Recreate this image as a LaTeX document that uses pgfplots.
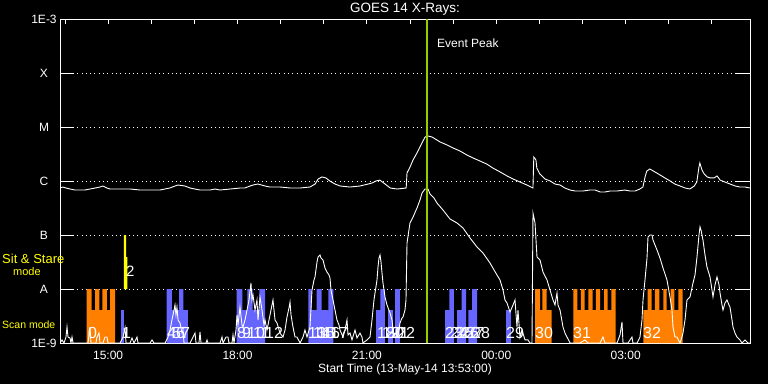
\documentclass[border=0pt]{standalone}
\usepackage{pgfplots}
\pgfplotsset{compat=1.18}
\usepackage{fontspec}
\setmainfont{Liberation Sans}
\definecolor{scanorange}{RGB}{255,128,0}
\definecolor{scanblue}{RGB}{102,102,255}
\definecolor{sityellow}{RGB}{255,255,0}
\definecolor{peakgreen}{RGB}{153,204,0}
\newcommand{\lbl}{\fontsize{12}{14}\selectfont}
\newcommand{\num}{\fontsize{16}{16}\selectfont}
\begin{document}
\begin{tikzpicture}
\fill[black] (0,0) rectangle (768pt,384pt);
\begin{axis}[
  at={(60pt,41pt)}, anchor=south west,
  scale only axis, width=690pt, height=324pt,
  xmin=13.8833, xmax=29.8833,
  ymode=log, ymin=1e-9, ymax=1e-3,
  axis line style={white, line width=1pt},
  xtick={15,18,21,24,27},
  xticklabels={15:00,18:00,21:00,00:00,03:00},
  every major x tick/.append style={draw=none},
  minor xtick={14,15,...,29},
  xtick pos=right,
  xticklabel pos=left,
  ytick={1e-9,1e-8,1e-7,1e-6,1e-5,1e-4,1e-3},
  yticklabels={1E-9,A,B,C,M,X,1E-3},
  yminorticks=false,
  ytick pos=both,
  yticklabel pos=left,
  tick align=inside,
  major tick length=14pt,
  minor tick length=5pt,
  tick style={white, line width=1pt},
  ymajorgrids,
  grid style={white, line width=0.8pt, dash pattern=on 0.8pt off 3.5pt},
  ticklabel style={white, font=\lbl},
  yticklabel style={anchor=center, xshift=-16pt},
  xticklabel style={anchor=base, yshift=-16pt},
  /pgf/number format/assume math mode=true,
]
% orange scan blocks
\addplot[fill=scanorange, draw=none] coordinates {(14.502,1e-9) (14.502,1e-8) (14.618,1e-8) (14.618,4.08e-9) (14.695,4.08e-9) (14.695,1e-8) (14.795,1e-8) (14.795,4.08e-9) (14.864,4.08e-9) (14.864,1e-8) (14.973,1e-8) (14.973,4.08e-9) (15.043,4.08e-9) (15.043,1e-8) (15.159,1e-8) (15.159,1e-9)};
\addplot[fill=scanorange, draw=none] coordinates {(24.898,1e-9) (24.898,1e-8) (25.014,1e-8) (25.014,4.08e-9) (25.067,4.08e-9) (25.067,1e-8) (25.169,1e-8) (25.169,4.08e-9) (25.285,4.08e-9) (25.285,1e-9)};
\addplot[fill=scanorange, draw=none] coordinates {(25.786,1e-9) (25.786,1e-8) (25.878,1e-8) (25.878,4.08e-9) (25.964,4.08e-9) (25.964,1e-8) (26.050,1e-8) (26.050,4.08e-9) (26.134,4.08e-9) (26.134,1e-8) (26.236,1e-8) (26.236,4.08e-9) (26.312,4.08e-9) (26.312,1e-8) (26.405,1e-8) (26.405,4.08e-9) (26.498,4.08e-9) (26.498,1e-8) (26.583,1e-8) (26.583,4.08e-9) (26.667,4.08e-9) (26.667,1e-8) (26.769,1e-8) (26.769,1e-9)};
\addplot[fill=scanorange, draw=none] coordinates {(27.409,1e-9) (27.409,4.08e-9) (27.511,4.08e-9) (27.511,1e-8) (27.604,1e-8) (27.604,4.08e-9) (27.680,4.08e-9) (27.680,1e-8) (27.780,1e-8) (27.780,4.08e-9) (27.873,4.08e-9) (27.873,1e-8) (27.952,1e-8) (27.952,4.08e-9) (28.044,4.08e-9) (28.044,1e-8) (28.128,1e-8) (28.128,4.08e-9) (28.221,4.08e-9) (28.221,1e-8) (28.323,1e-8) (28.323,1e-9)};
% blue scan bars
\addplot[fill=scanblue, draw=none] coordinates {(15.298,1e-9) (15.298,4.08e-9) (15.367,4.08e-9) (15.367,1e-9)};
\addplot[fill=scanblue, draw=none] coordinates {(16.358,1e-9) (16.358,1e-8) (16.480,1e-8) (16.480,4.08e-9) (16.643,4.08e-9) (16.643,1e-8) (16.742,1e-8) (16.742,4.08e-9) (16.851,4.08e-9) (16.851,1e-9)};
\addplot[fill=scanblue, draw=none] coordinates {(17.981,1e-9) (17.981,1e-8) (18.111,1e-8) (18.111,4.08e-9) (18.226,4.08e-9) (18.226,1e-8) (18.352,1e-8) (18.352,4.08e-9) (18.509,4.08e-9) (18.509,1e-8) (18.637,1e-8) (18.637,1e-9)};
\addplot[fill=scanblue, draw=none] coordinates {(19.641,1e-9) (19.641,1e-8) (19.720,1e-8) (19.720,4.08e-9) (19.836,4.08e-9) (19.836,1e-8) (19.952,1e-8) (19.952,4.08e-9) (20.105,4.08e-9) (20.105,1e-8) (20.221,1e-8) (20.221,1e-9)};
\addplot[fill=scanblue, draw=none] coordinates {(21.211,1e-9) (21.211,4.08e-9) (21.315,4.08e-9) (21.315,1e-8) (21.419,1e-8) (21.419,1e-9)};
\addplot[fill=scanblue, draw=none] coordinates {(21.489,1e-9) (21.489,4.08e-9) (21.605,4.08e-9) (21.605,1e-9)};
\addplot[fill=scanblue, draw=none] coordinates {(21.651,1e-9) (21.651,1e-8) (21.767,1e-8) (21.767,1e-9)};
\addplot[fill=scanblue, draw=none] coordinates {(22.811,1e-9) (22.811,4.08e-9) (22.910,4.08e-9) (22.910,1e-8) (23.019,1e-8) (23.019,1e-9)};
\addplot[fill=scanblue, draw=none] coordinates {(23.089,1e-9) (23.089,4.08e-9) (23.198,4.08e-9) (23.198,1e-8) (23.298,1e-8) (23.298,1e-9)};
\addplot[fill=scanblue, draw=none] coordinates {(23.351,1e-9) (23.351,4.08e-9) (23.437,4.08e-9) (23.437,1e-8) (23.553,1e-8) (23.553,1e-9)};
\addplot[fill=scanblue, draw=none] coordinates {(24.225,1e-9) (24.225,4.08e-9) (24.334,4.08e-9) (24.334,1e-9)};
% sit and stare
\addplot[fill=sityellow, draw=none] coordinates {(15.367,1e-8) (15.367,1e-7) (15.414,1e-7) (15.414,3.91e-8) (15.444,3.91e-8) (15.444,1e-8)};
% long channel 1-8 A
\addplot[white, line width=0.9pt] table {
13.883 7.42e-7
13.95 7.74e-7
14.02 7.42e-7
14.12 7.11e-7
14.23 6.81e-7
14.35 6.81e-7
14.46 6.81e-7
14.58 7.11e-7
14.70 7.42e-7
14.81 7.74e-7
14.88 8.08e-7
14.97 7.42e-7
15.04 7.11e-7
15.28 7.11e-7
15.51 7.11e-7
15.74 6.81e-7
15.97 6.81e-7
16.20 6.81e-7
16.43 7.42e-7
16.55 8.08e-7
16.62 8.43e-7
16.78 8.08e-7
16.90 7.42e-7
17.01 7.11e-7
17.13 6.81e-7
17.36 6.81e-7
17.48 7.11e-7
17.59 6.81e-7
17.83 7.11e-7
18.06 7.42e-7
18.17 7.42e-7
18.29 8.08e-7
18.36 8.43e-7
18.47 8.80e-7
18.64 8.08e-7
18.75 7.74e-7
18.99 7.74e-7
19.22 7.42e-7
19.45 7.42e-7
19.68 7.74e-7
19.80 8.80e-7
19.87 1.09e-6
19.96 1.19e-6
20.05 1.14e-6
20.14 1.00e-6
20.26 8.80e-7
20.38 8.08e-7
20.61 7.74e-7
20.84 8.08e-7
21.03 8.80e-7
21.12 9.19e-7
21.21 1.00e-6
21.30 1.04e-6
21.42 8.80e-7
21.54 7.42e-7
21.70 7.11e-7
21.91 7.42e-7
21.93 1.41e-6
22.00 1.82e-6
22.07 2.45e-6
22.16 3.30e-6
22.23 4.26e-6
22.30 5.51e-6
22.35 6.53e-6
22.42 6.81e-6
22.51 6.53e-6
22.70 5.27e-6
22.86 4.64e-6
23.00 4.08e-6
23.16 3.59e-6
23.32 3.03e-6
23.46 2.67e-6
23.62 2.35e-6
23.78 2.06e-6
23.92 1.74e-6
24.09 1.47e-6
24.25 1.24e-6
24.39 1.09e-6
24.55 9.58e-7
24.71 8.43e-7
24.85 7.42e-7
24.87 2.78e-6
24.92 2.45e-6
24.94 1.74e-6
25.01 1.35e-6
25.13 1.09e-6
25.25 1.00e-6
25.36 8.80e-7
25.48 8.43e-7
25.59 7.42e-7
25.71 6.81e-7
25.83 6.53e-7
26.01 6.53e-7
26.17 6.81e-7
26.29 6.81e-7
26.41 6.26e-7
26.52 6.26e-7
26.64 6.53e-7
26.80 6.53e-7
26.98 6.81e-7
27.10 6.53e-7
27.22 6.53e-7
27.33 7.11e-7
27.40 7.74e-7
27.45 1.19e-6
27.49 1.53e-6
27.56 1.67e-6
27.68 1.47e-6
27.80 1.29e-6
27.91 1.14e-6
28.03 1.00e-6
28.14 8.80e-7
28.26 8.08e-7
28.38 7.42e-7
28.49 7.11e-7
28.59 8.08e-7
28.65 9.58e-7
28.70 1.82e-6
28.72 2.15e-6
28.77 1.60e-6
28.82 1.35e-6
28.89 1.19e-6
28.96 1.14e-6
29.05 1.14e-6
29.12 1.24e-6
29.19 1.04e-6
29.30 9.58e-7
29.42 8.80e-7
29.54 8.08e-7
29.65 7.74e-7
29.77 7.74e-7
29.883 7.42e-7
};
% short channel 0.5-4 A
\addplot[white, line width=0.9pt] table {
13.883 1e-9
13.930 1.14e-9
13.976 1e-9
14.022 1.29e-9
14.046 1.98e-9
14.069 1.29e-9
14.115 1.24e-9
14.138 1e-9
14.162 1.29e-9
14.185 1e-9
14.347 1e-9
14.533 1e-9
14.579 1.98e-9
14.602 1e-9
14.718 1e-9
14.741 1.29e-9
14.788 1.53e-9
14.811 1e-9
14.880 1e-9
14.927 1.29e-9
14.973 1.29e-9
14.996 1e-9
15.159 1e-9
15.275 1e-9
15.344 1.29e-9
15.391 1.90e-9
15.414 1e-9
15.507 1e-9
15.553 1.24e-9
15.599 1e-9
15.669 1.29e-9
15.692 1e-9
15.970 1e-9
16.017 1.14e-9
16.063 1e-9
16.318 1e-9
16.388 1.29e-9
16.434 1.74e-9
16.480 2.67e-9
16.527 4.08e-9
16.550 5.06e-9
16.573 3.30e-9
16.596 4.64e-9
16.620 2.67e-9
16.666 2.35e-9
16.712 1.53e-9
16.735 1.74e-9
16.759 1e-9
16.898 1e-9
16.967 1.29e-9
17.014 1.53e-9
17.037 1e-9
17.106 1e-9
17.130 1.60e-9
17.153 1e-9
17.269 1e-9
17.292 1.14e-9
17.315 1e-9
17.594 1e-9
17.640 1.29e-9
17.663 1e-9
17.733 1.29e-9
17.779 1.29e-9
17.802 1e-9
17.872 1e-9
17.895 1.41e-9
17.918 1e-9
17.964 1.74e-9
17.988 3.30e-9
18.011 2.15e-9
18.057 4.64e-9
18.104 2.15e-9
18.127 1.98e-9
18.173 2.67e-9
18.220 4.08e-9
18.266 6.26e-9
18.312 1.29e-8
18.335 6.26e-9
18.359 7.74e-9
18.405 4.08e-9
18.451 6.26e-9
18.475 2.67e-9
18.521 7.11e-9
18.567 4.08e-9
18.614 2.15e-9
18.637 2.67e-9
18.683 1.74e-9
18.753 3.30e-9
18.799 5.06e-9
18.822 6.26e-9
18.869 2.67e-9
18.915 2.35e-9
18.985 1.53e-9
19.054 1.29e-9
19.101 1.74e-9
19.147 3.03e-9
19.193 4.45e-9
19.217 5.74e-9
19.240 3.30e-9
19.286 1.98e-9
19.333 1.29e-9
19.379 1.29e-9
19.449 1e-9
19.518 1.29e-9
19.564 1.74e-9
19.611 1.29e-9
19.680 1.98e-9
19.727 9.58e-9
19.773 1.47e-8
19.796 1.67e-8
19.843 3.16e-8
19.866 3.91e-8
19.912 4.26e-8
19.935 3.75e-8
19.982 3.44e-8
20.028 2.45e-8
20.074 2.06e-8
20.121 1.82e-8
20.144 1.60e-8
20.167 9.58e-9
20.214 6.26e-9
20.260 4.08e-9
20.306 2.67e-9
20.353 2.15e-9
20.376 1.74e-9
20.446 1.29e-9
20.492 1.74e-9
20.538 2.67e-9
20.562 1.41e-9
20.608 1.53e-9
20.654 1.14e-9
20.724 1.74e-9
20.770 1.24e-9
20.840 1.53e-9
20.886 1.29e-9
20.909 1e-9
21.002 1.14e-9
21.072 1.29e-9
21.118 2.67e-9
21.164 6.26e-9
21.188 8.43e-9
21.234 1.47e-8
21.257 2.55e-8
21.280 3.75e-8
21.304 4.26e-8
21.327 3.16e-8
21.350 1.98e-8
21.373 1.29e-8
21.420 7.11e-9
21.466 5.06e-9
21.536 3.59e-9
21.582 2.67e-9
21.605 1.74e-9
21.651 1.29e-9
21.698 1.29e-9
21.744 1.74e-9
21.767 2.35e-9
21.814 2.90e-9
21.837 3.03e-9
21.883 4.08e-9
21.906 6.26e-9
21.930 7.11e-8
21.999 1.67e-7
22.069 2.15e-7
22.161 3.16e-7
22.231 4.45e-7
22.278 6.00e-7
22.347 7.11e-7
22.417 7.11e-7
22.463 5.74e-7
22.556 4.84e-7
22.625 3.91e-7
22.764 2.90e-7
22.927 1.98e-7
23.089 1.67e-7
23.228 1.35e-7
23.391 8.80e-8
23.553 6.00e-8
23.692 4.64e-8
23.854 3.03e-8
24.016 1.82e-8
24.086 1.47e-8
24.156 9.58e-9
24.202 6.26e-9
24.248 5.51e-9
24.318 3.75e-9
24.388 5.06e-9
24.434 6.26e-9
24.480 1.98e-9
24.503 4.08e-9
24.550 1.29e-9
24.596 1.74e-9
24.666 1.14e-9
24.735 1.14e-9
24.782 1e-9
24.828 1e-9
24.851 2.55e-7
24.898 1.67e-7
24.944 3.91e-8
25.014 3.44e-8
25.083 2.06e-8
25.176 1.47e-8
25.246 9.58e-9
25.315 6.26e-9
25.361 5.06e-9
25.408 8.43e-9
25.431 5.06e-9
25.478 4.08e-9
25.547 1.98e-9
25.593 1.53e-9
25.640 1.29e-9
25.710 1e-9
25.941 1e-9
26.057 1.14e-9
26.127 1e-9
26.405 1e-9
26.474 1.29e-9
26.521 1e-9
26.799 1e-9
26.869 1.41e-9
26.915 2.45e-9
26.938 1e-9
27.054 1e-9
27.147 1.29e-9
27.170 1e-9
27.263 1e-9
27.332 1.29e-9
27.379 2.67e-9
27.402 6.26e-9
27.448 1.47e-8
27.495 3.75e-8
27.518 9.19e-8
27.564 1.00e-7
27.611 1.00e-7
27.634 8.08e-8
27.680 6.53e-8
27.727 5.27e-8
27.796 3.75e-8
27.866 2.45e-8
27.958 1.47e-8
28.028 7.11e-9
28.074 4.08e-9
28.097 1.98e-9
28.144 1.29e-9
28.190 1.29e-9
28.260 1e-9
28.306 1.29e-9
28.329 1.53e-9
28.376 2.67e-9
28.422 6.26e-9
28.492 7.11e-9
28.561 1.29e-8
28.608 1.82e-8
28.654 3.91e-8
28.700 1.00e-7
28.724 1.41e-7
28.747 1.24e-7
28.793 8.08e-8
28.840 4.26e-8
28.886 2.55e-8
28.956 1.67e-8
29.002 9.58e-9
29.025 7.11e-9
29.072 1.19e-8
29.118 1.67e-8
29.165 1.19e-8
29.188 8.43e-9
29.234 5.06e-9
29.257 4.08e-9
29.303 5.51e-9
29.350 6.26e-9
29.396 5.06e-9
29.419 4.64e-9
29.466 2.67e-9
29.489 1.98e-9
29.535 1.53e-9
29.582 1.29e-9
29.651 1.14e-9
29.697 1e-9
29.767 1.14e-9
29.837 1e-9
29.883 1e-9
};
% event peak
\addplot[peakgreen, line width=2pt] coordinates {(22.386,1e-9) (22.386,1e-3)};
% scan numbers
\begin{scope}[every node/.style={white, font=\num, anchor=base west, inner sep=0pt}]
\node at (axis cs:14.533,1.19e-9) {0};
\node at (axis cs:15.321,1.19e-9) {1};
\node[font=\fontsize{15}{15}\selectfont] at (axis cs:15.414,1.67e-8) {2};
\node at (axis cs:16.364,1.19e-9) {4};
\node at (axis cs:16.480,1.19e-9) {5};
\node at (axis cs:16.573,1.19e-9) {6};
\node at (axis cs:16.689,1.19e-9) {7};
\node at (axis cs:17.988,1.19e-9) {8};
\node at (axis cs:18.104,1.19e-9) {9};
\node at (axis cs:18.220,1.19e-9) {10};
\node at (axis cs:18.359,1.19e-9) {11};
\node at (axis cs:18.637,1.19e-9) {12};
\node at (axis cs:19.634,1.19e-9) {13};
\node at (axis cs:19.750,1.19e-9) {14};
\node at (axis cs:19.843,1.19e-9) {15};
\node at (axis cs:19.959,1.19e-9) {16};
\node at (axis cs:20.144,1.19e-9) {17};
\node at (axis cs:21.234,1.19e-9) {18};
\node at (axis cs:21.350,1.19e-9) {19};
\node at (axis cs:21.443,1.19e-9) {20};
\node at (axis cs:21.559,1.19e-9) {21};
\node at (axis cs:21.698,1.19e-9) {22};
\node at (axis cs:22.811,1.19e-9) {23};
\node at (axis cs:22.927,1.19e-9) {24};
\node at (axis cs:23.066,1.19e-9) {25};
\node at (axis cs:23.182,1.19e-9) {26};
\node at (axis cs:23.298,1.19e-9) {27};
\node at (axis cs:23.437,1.19e-9) {28};
\node at (axis cs:24.225,1.19e-9) {29};
\node at (axis cs:24.898,1.19e-9) {30};
\node at (axis cs:25.779,1.19e-9) {31};
\node at (axis cs:27.402,1.19e-9) {32};
\end{scope}
\end{axis}
\begin{scope}[every node/.style={inner sep=0pt, font=\lbl}]
\node[white, anchor=base, font=\fontsize{13.5}{15}\selectfont] at (405pt,371pt) {GOES 14 X-Rays:};
\node[white, anchor=base] at (405pt,12pt) {Start Time (13-May-14 13:53:00)};
\node[white, anchor=base west] at (437pt,337pt) {Event Peak};
\node[sityellow, anchor=base west, font=\fontsize{13}{15}\selectfont] at (2pt,121pt) {Sit \& Stare};
\node[sityellow, anchor=base west, font=\fontsize{11}{13}\selectfont] at (13pt,109pt) {mode};
\node[sityellow, anchor=base west, font=\fontsize{10.5}{13}\selectfont] at (2pt,56pt) {Scan mode};
\end{scope}
\pgfresetboundingbox
\path[use as bounding box] (0,0) rectangle (768pt,384pt);
\end{tikzpicture}
\end{document}
